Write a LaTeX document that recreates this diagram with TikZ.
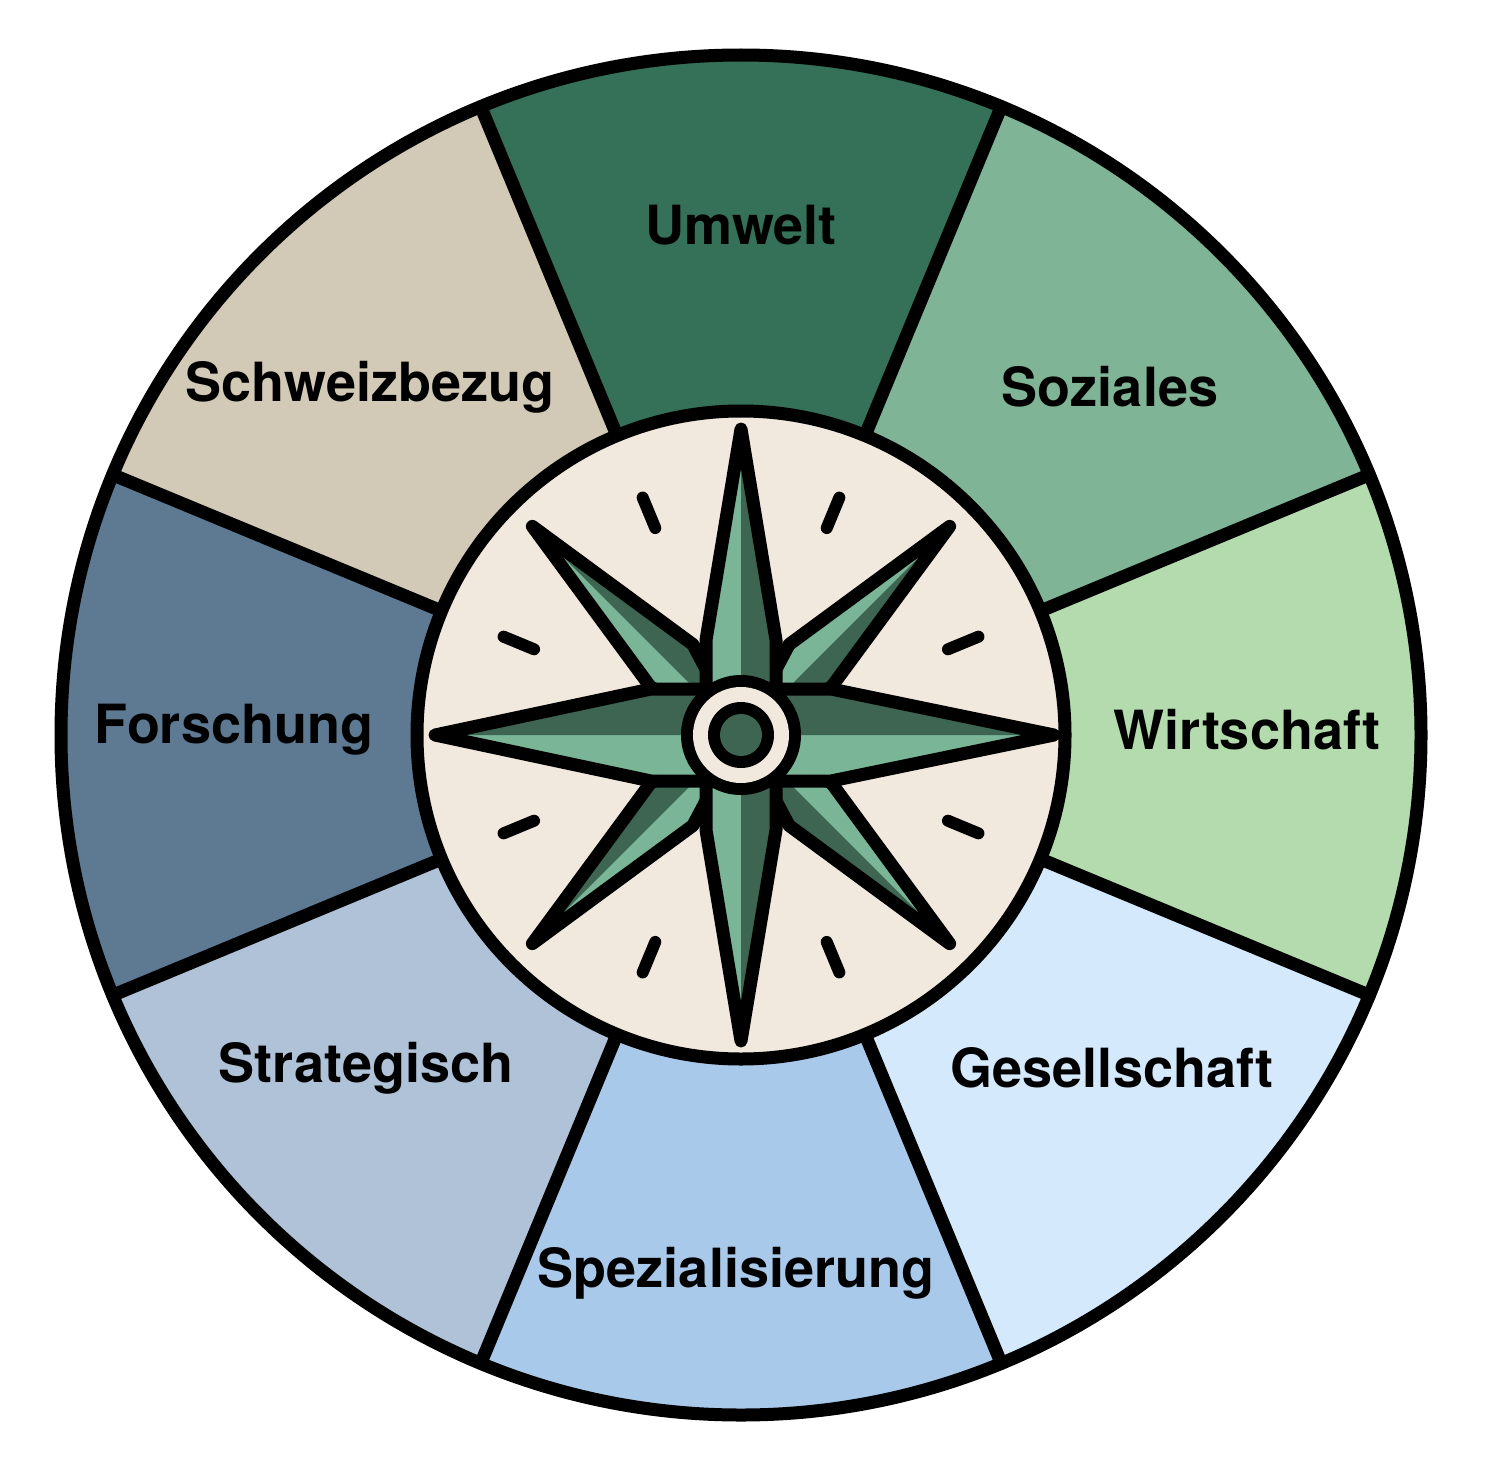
\documentclass[tikz,border=0pt]{standalone}
\usepackage{fontspec}
\setmainfont{TeX Gyre Heros}
\definecolor{cUm}{HTML}{347158}
\definecolor{cSo}{HTML}{7FB496}
\definecolor{cWi}{HTML}{B4DBAE}
\definecolor{cGe}{HTML}{D4E9FB}
\definecolor{cSp}{HTML}{A9C9EB}
\definecolor{cSt}{HTML}{AFC2D8}
\definecolor{cFo}{HTML}{5E7A93}
\definecolor{cSc}{HTML}{D2C9B7}
\definecolor{cream}{HTML}{F1E9DE}
\definecolor{armlight}{HTML}{7AB598}
\definecolor{armdark}{HTML}{3D6552}
\begin{document}
\begin{tikzpicture}[x=0.5pt,y=-0.5pt,
  lbl/.style={font=\bfseries\fontsize{27}{30}\selectfont,text=black},
  blk/.style={draw=black,line width=6.5pt,line join=round,line cap=round},
  tick/.style={draw=black,line width=6pt,line cap=round}]
\useasboundingbox (0,0) rectangle (1488,1461);
\begin{scope}[shift={(741,735)},yscale=-1]
  \foreach \a/\c in {90/cUm,45/cSo,0/cWi,-45/cGe,-90/cSp,-135/cSt,180/cFo,135/cSc}{
    \fill[\c] (0,0) -- (\a-22.5:680) arc[start angle=\a-22.5,end angle=\a+22.5,radius=680] -- cycle;
  }
  \foreach \a in {22.5,67.5,...,337.5}{ \draw[blk] (\a:320) -- (\a:680); }
  \draw[blk] (0,0) circle[radius=680];
  \draw[blk,fill=cream] (0,0) circle[radius=324];
  \foreach \a in {22.5,67.5,...,337.5}{ \draw[tick] (\a:224) -- (\a:257); }
  % diagonal arms
  \foreach \a in {45,135,225,315}{
    \begin{scope}[rotate=\a]
      \fill[armlight] (295,0) -- (98,30) -- (0,0) -- (98,-30) -- cycle;
      \fill[armdark] (295,0) -- (98,-30) -- (0,0) -- cycle;
      \draw[blk] (295,0) -- (98,30) -- (0,0) -- (98,-30) -- cycle;
    \end{scope}
  }
  % main arms
  \foreach \a/\L/\s/\w in {90/306/95/35,270/306/95/35,0/313/90/46,180/306/90/46}{
    \begin{scope}[rotate=\a]
      \fill[armlight] (\L,0) -- (\s,\w) -- (0,\w) -- (0,-\w) -- (\s,-\w) -- cycle;
    \end{scope}
  }
  \fill[armdark] (0,306) -- (35,95) -- (35,0) -- (0,0) -- cycle;
  \fill[armdark] (0,-306) -- (35,-95) -- (35,0) -- (0,0) -- cycle;
  \fill[armdark] (313,0) -- (90,46) -- (0,46) -- (0,0) -- cycle;
  \fill[armdark] (-306,0) -- (-90,46) -- (0,46) -- (0,0) -- cycle;
  \draw[blk] (0,306) -- (35,95) -- (35,46) -- (90,46) -- (313,0) -- (90,-46) -- (35,-46) -- (35,-95)
    -- (0,-306) -- (-35,-95) -- (-35,-46) -- (-90,-46) -- (-306,0) -- (-90,46) -- (-35,46) -- (-35,95) -- cycle;
  \fill[black] (0,0) circle[radius=60];
  \fill[cream] (0,0) circle[radius=48];
  \fill[black] (0,0) circle[radius=33];
  \fill[armdark] (0,0) circle[radius=21];
\end{scope}
\node[lbl] (um) at (741,225) {Umwelt};
\node[lbl] (so) at (1110,387) {Soziales};
\node[lbl] (wi) at (1247,730) {Wirtschaft};
\node[lbl] (ge) at (1112,1068) {Gesellschaft};
\node[lbl] (sp) at (736,1273) {Spezialisierung};
\node[lbl] (st) at (366,1068) {Strategisch};
\node[lbl] (fo) at (234,730) {Forschung};
\node[lbl] (sc) at (370,387) {Schweizbezug};
\end{tikzpicture}
\end{document}
